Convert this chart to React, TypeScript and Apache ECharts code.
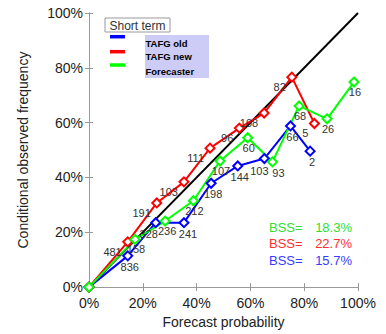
import React, { useEffect, useRef } from "react";
import * as echarts from "echarts";

// TAFG old (blue)
const oldProb = [0, 14.4, 24.8, 35.3, 45.4, 55.3, 65.2, 74.9, 82.2];
const oldFreq = [0, 11.4, 23.5, 23.5, 37.9, 44.2, 46.9, 58.8, 49.6];
const oldCounts = ["", "836", "328", "241", "198", "144", "103", "66", "2"];

// TAFG new (red)
const newProb = [0, 14.4, 25.2, 35.3, 45.0, 55.9, 65.1, 75.4, 83.8];
const newFreq = [0, 16.5, 30.7, 38.4, 50.7, 58.0, 63.5, 76.6, 59.7];
const newCounts = ["", "481", "191", "103", "111", "96", "108", "82", "5"];

// Forecaster (green)
const fcProb = [0, 17.1, 28.3, 38.8, 48.7, 59.0, 68.2, 78.1, 88.5, 98.5];
const fcFreq = [0, 17.4, 24.1, 31.5, 46.0, 54.5, 45.7, 66.1, 61.4, 74.8];
const fcCounts = ["", "158", "236", "212", "107", "60", "93", "68", "26", "16"];

const diagonal = [[0, 0], [100, 100]];
const axisTicks = [0, 20, 40, 60, 80, 100];

const legendTitle = "Short term";
const legendNames = ["TAFG old", "TAFG new", "Forecaster"];
const bssNames = ["BSS=", "BSS=", "BSS="];
const bssValues = ["18.3%", "22.7%", "15.7%"];

const FONT = "Liberation Sans, Arial, Helvetica, sans-serif";
const BLUE = "#0000ff";
const RED = "#ff0000";
const GREEN = "#00ff00";

export default function App() {
  const ref = useRef<HTMLDivElement>(null);
  useEffect(() => {
    if (!ref.current) return;
    const chart = echarts.init(ref.current, null, { renderer: "svg" });

    const axisCommon = {
      type: "value" as const,
      min: axisTicks[0],
      max: axisTicks[axisTicks.length - 1],
      interval: 20,
      splitLine: { show: false },
      axisLine: { show: true, lineStyle: { color: "#999", width: 1 } },
      axisTick: { show: true, inside: true, length: 4, lineStyle: { color: "#999" } },
    };
    const labelCommon = {
      formatter: "{value}%",
      fontSize: 14,
      color: "#222",
      fontFamily: FONT,
    };

    const mkSeries = (
      name: string,
      color: string,
      xs: number[],
      ys: number[],
      counts: string[],
      offset: number[],
      align: string,
      nudges: Record<number, number[]>
    ) => ({
      name,
      type: "line",
      data: xs.map((x, i) => {
        const item: any = { value: [x, ys[i]] };
        if (nudges[i]) item.label = { offset: nudges[i] };
        return item;
      }),
      symbol: "emptyDiamond",
      symbolSize: 9,
      lineStyle: { color, width: 2 },
      itemStyle: { color, borderWidth: 1.5 },
      label: {
        show: true,
        position: "inside",
        offset,
        align,
        formatter: (p: any) => counts[p.dataIndex],
        fontSize: 11,
        color: "#333",
        fontFamily: FONT,
      },
      z: 3,
    });

    const legendColors = [BLUE, RED, GREEN];
    const legendY = [36.7, 51.7, 65];
    const textY = [43.7, 56.7, 71.7];
    const bssColors = ["#30e030", "#ff3030", "#3a3aff"];
    const bssY = [227.7, 243.7, 260.7];

    const graphic: any[] = [
      {
        type: "rect",
        shape: { x: 105, y: 18, width: 65, height: 14 },
        style: { fill: "#fff", stroke: "#999", lineWidth: 1 },
        z: 10,
      },
      {
        type: "text",
        x: 137.5,
        y: 25.5,
        style: { text: legendTitle, fontSize: 12, fill: "#333", fontFamily: FONT, align: "center", verticalAlign: "middle" },
        z: 11,
      },
      {
        type: "rect",
        shape: { x: 145, y: 35, width: 64, height: 43 },
        style: { fill: "#ccccf7" },
        z: 10,
      },
    ];
    legendNames.forEach((n, i) => {
      graphic.push({
        type: "line",
        shape: { x1: 110, y1: legendY[i], x2: 125, y2: legendY[i] },
        style: { stroke: legendColors[i], lineWidth: 3.5 },
        z: 11,
      });
      graphic.push({
        type: "text",
        x: 145.5,
        y: textY[i],
        style: { text: n, fontSize: 9.5, fontWeight: "bold", fill: "#000", fontFamily: FONT, align: "left", verticalAlign: "middle" },
        z: 11,
      });
    });
    bssNames.forEach((n, i) => {
      graphic.push({
        type: "text",
        x: 269,
        y: bssY[i],
        style: { text: n, fontSize: 13, fill: bssColors[i], fontFamily: FONT, align: "left", verticalAlign: "middle" },
        z: 11,
      });
      graphic.push({
        type: "text",
        x: 352,
        y: bssY[i],
        style: { text: bssValues[i], fontSize: 13, fill: bssColors[i], fontFamily: FONT, align: "right", verticalAlign: "middle" },
        z: 11,
      });
    });

    chart.setOption({
      animation: false,
      backgroundColor: "#fff",
      grid: { left: 89, right: 28, top: 13, bottom: 44, containLabel: false },
      xAxis: [
        {
          ...axisCommon,
          position: "bottom",
          axisLabel: { ...labelCommon, margin: 9 },
          name: "Forecast probability",
          nameLocation: "middle",
          nameGap: 26,
          nameTextStyle: { fontSize: 14, color: "#222", fontFamily: FONT },
        },
        { ...axisCommon, position: "top", axisLabel: { show: false } },
      ],
      yAxis: [
        {
          ...axisCommon,
          position: "left",
          axisLabel: { ...labelCommon, margin: 6 },
          name: "Conditional observed frequency",
          nameLocation: "middle",
          nameGap: 59,
          nameRotate: 90,
          nameTextStyle: { fontSize: 14, color: "#222", fontFamily: FONT },
        },
        { ...axisCommon, position: "right", axisLabel: { show: false } },
      ],
      series: [
        {
          type: "line",
          data: diagonal,
          symbol: "none",
          lineStyle: { color: "#000", width: 2 },
          z: 2,
        },
        mkSeries("TAFG old", BLUE, oldProb, oldFreq, oldCounts, [2, 11], "center", { 2: [-7, 11], 3: [4, 11], 6: [-5, 12] }),
        mkSeries("TAFG new", RED, newProb, newFreq, newCounts, [-6, 10], "right", {}),
        mkSeries("Forecaster", GREEN, fcProb, fcFreq, fcCounts, [1, 10], "center", { 2: [2, 10], 6: [6, 11] }),
      ],
      graphic,
    });
    return () => chart.dispose();
  }, []);
  return <div ref={ref} style={{ position: "fixed", left: 0, top: 0, width: 386, height: 334 }} />;
}
